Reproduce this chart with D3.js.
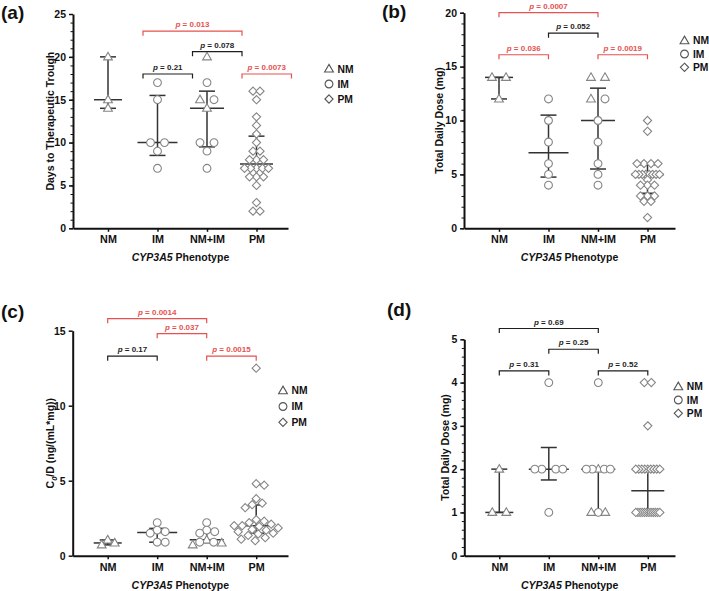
<!DOCTYPE html>
<html><head><meta charset="utf-8">
<script src="https://cdn.jsdelivr.net/npm/d3@7"></script>
<style>
body{margin:0;background:#fff}
svg{display:block}
text{font-family:"Liberation Sans",Arial,Helvetica,sans-serif;font-weight:bold;fill:#111}
</style>
</head><body>
<svg id="chart" width="709" height="591"></svg>
<script>
// ---------------- data ----------------
const categories = ["NM", "IM", "NM+IM", "PM"];
const legendLabels = ["NM", "IM", "PM"];

// (a) Days to therapeutic trough
const daysNM = [20, 15, 14];
const daysIM = [17, 15, 10, 10, 9, 7];
const daysPM = [16, 16, 15, 13, 12, 11, 10, 9, 9, 8, 8, 8, 7, 7, 7, 7, 7, 6, 6, 6, 5, 3, 2, 2];
const daysMedian = [15, 10, 14, 7.5];
const daysQ1 = [14, 8.5, 9.5, 6];
const daysQ3 = [20, 15.5, 16, 10.75];
const daysP = [[0, 1, "0.21", false, 18], [1, 2, "0.078", false, 20.6], [0, 2, "0.013", true, 23], [2, 3, "0.0073", true, 18]];
const daysTicks = [0, 5, 10, 15, 20, 25];

// (b) Total daily dose
const doseNM = [14, 14, 12];
const doseIM = [12, 10, 8, 6, 5, 4];
const dosePM = [10, 9, 6, 6, 6, 6, 5, 5, 5, 5, 5, 5, 5, 5, 4.5, 4, 4, 4, 3, 3, 3, 2.5, 2.5, 1];
const doseMedian = [14, 7, 10, 5];
const doseQ1 = [12, 4.75, 5.5, 3.25];
const doseQ3 = [14, 10.5, 13, 5.9];
const doseP = [[0, 1, "0.036", true, 16.1], [1, 2, "0.052", false, 18.1], [0, 2, "0.0007", true, 20], [2, 3, "0.0019", true, 16.1]];
const doseTicks = [0, 5, 10, 15, 20];

// (c) C0/D
const c0dNM = [1.05, 0.85, 0.72];
const c0dIM = [2.2, 1.7, 1.6, 1.5, 0.9, 0.9];
const c0dPM = [12.5, 4.8, 4.7, 3.8, 3.5, 3.4, 3.2, 2.4, 2.3, 2.2, 2.1, 2.0, 2.0, 1.95, 1.85, 1.75, 1.7, 1.6, 1.5, 1.45, 1.35, 1.2, 1.1, 1.0];
const c0dMedian = [0.85, 1.55, 1.07, 2.0];
const c0dQ1 = [0.72, 0.9, 0.87, 1.5];
const c0dQ3 = [1.05, 1.82, 1.6, 3.38];
const c0dP = [[0, 1, "0.17", false, 13.3], [1, 2, "0.037", true, 14.8], [0, 2, "0.0014", true, 15.8], [2, 3, "0.0015", true, 13.3]];
const c0dTicks = [0, 5, 10, 15];

// (d) Total daily dose
const lowNM = [2, 1, 1];
const lowIM = [4, 2, 2, 2, 2, 1];
const lowPM = [4, 4, 3, 2, 2, 2, 2, 2, 2, 2, 2, 2, 1, 1, 1, 1, 1, 1, 1, 1, 1, 1, 1, 1];
const lowMedian = [1, 2, 2, 1.5];
const lowQ1 = [1, 1.75, 1, 1];
const lowQ3 = [2, 2.5, 2, 2];
const lowP = [[0, 1, "0.31", false, 4.27], [1, 2, "0.25", false, 4.77], [0, 2, "0.69", false, 5.25], [2, 3, "0.52", false, 4.27]];
const lowTicks = [0, 1, 2, 3, 4, 5];

// ---------------- panels (data + layout) ----------------
const panels = [
  {tag: "(a)", nm: daysNM, im: daysIM, pm: daysPM, med: daysMedian, q1: daysQ1, q3: daysQ3, p: daysP, ticks: daysTicks,
   yMax: 25, minor: 1, title: "Days to Therapeutic Trough", mode: "rows",
   x0: 73, x1: 288, yTop: 14, yBot: 228.3, shift: 35, tagX: 1, tagY: 19, titleX: 54,
   legX: 329, legY: 69, legDy: 15},
  {tag: "(b)", nm: doseNM, im: doseIM, pm: dosePM, med: doseMedian, q1: doseQ1, q3: doseQ3, p: doseP, ticks: doseTicks,
   yMax: 20, minor: 1, title: "Total Daily Dose (mg)", mode: "rows",
   x0: 464, x1: 675, yTop: 12.7, yBot: 228.3, shift: 0, tagX: 382, tagY: 18, titleX: 443,
   legX: 684.5, legY: 40.7, legDy: 13.3},
  {tag: "(c)", nm: c0dNM, im: c0dIM, pm: c0dPM, med: c0dMedian, q1: c0dQ1, q3: c0dQ3, p: c0dP, ticks: c0dTicks,
   yMax: 15, minor: null, title: "C0D", mode: "swarm",
   x0: 72.7, x1: 288, yTop: 330.7, yBot: 555.7, shift: 0, tagX: 1, tagY: 318, titleX: 54,
   legX: 283, legY: 390.7, legDy: 15.8},
  {tag: "(d)", nm: lowNM, im: lowIM, pm: lowPM, med: lowMedian, q1: lowQ1, q3: lowQ3, p: lowP, ticks: lowTicks,
   yMax: 5, minor: 0.2, title: "Total Daily Dose (mg)", mode: "rows",
   x0: 464.3, x1: 675, yTop: 339.3, yBot: 555.7, shift: 0, tagX: 387, tagY: 316, titleX: 449,
   legX: 678.3, legY: 386.7, legDy: 13.3}
];

const RED = "#e5524f", BLK = "#1e1e1e", MK = "#858585", BAR = "#333";
const CAT_START = 35, CAT_STEP = 49.5;
const medHalf = [14, 20, 17, 16.5];
const capHalf = 8;
const typeOrder = {NM: 0, IM: 1, PM: 2};

function shapePath(t) {
  if (t === "NM") return "M0,-4.6L4.4,3L-4.4,3Z";
  if (t === "PM") return "M0,-4.1L4.1,0L0,4.1L-4.1,0Z";
  return d3.arc()({innerRadius: 0, outerRadius: 3.9, startAngle: 0, endAngle: 2 * Math.PI});
}

function rowLayout(items) {
  const total = items.length;
  const out = [];
  const groups = d3.group(items, d => d.v);
  for (const [v, arr] of groups) {
    const n = arr.length;
    let s = 7;
    if (n > 1 && (n - 1) * s > 24) s = 24 / (n - 1);
    let offs = [];
    if (total <= 12 && n % 2 === 0) {
      for (let k = 1; k <= n / 2; k++) offs.push(-k * s, k * s);
    } else {
      offs = d3.range(n).map(i => (i - (n - 1) / 2) * s);
    }
    offs.sort((a, b) => Math.abs(a) - Math.abs(b) || a - b);
    const byType = d3.group(arr, d => d.type);
    const types = Array.from(byType.keys()).sort((a, b) =>
      byType.get(a).length - byType.get(b).length || typeOrder[a] - typeOrder[b]);
    const ordered = types.flatMap(t => byType.get(t));
    ordered.forEach((d, i) => out.push(Object.assign({}, d, {dx: offs[i]})));
  }
  return out;
}

function swarmLayout(items, y) {
  const placed = [];
  const dmin = 7.2;
  const sorted = items.slice().sort((a, b) => b.v - a.v);
  sorted.forEach(it => {
    const py = y(it.v);
    let best = 0;
    for (let k = 0; k < 80; k++) {
      const cand = k === 0 ? 0 : (k % 2 ? 1 : -1) * Math.ceil(k / 2);
      if (placed.every(p => (p.dx - cand) ** 2 + (p.py - py) ** 2 >= dmin * dmin)) { best = cand; break; }
    }
    placed.push(Object.assign({}, it, {dx: best, py}));
  });
  return placed;
}

const svg = d3.select("#chart");

panels.forEach(P => {
  const g = svg.append("g");
  const y = d3.scaleLinear().domain([0, P.yMax]).range([P.yBot, P.yTop]);
  const lo = -CAT_START / CAT_STEP;
  const hi = (P.x1 - P.x0 - CAT_START) / CAT_STEP;
  const x = d3.scaleLinear().domain([lo, hi]).range([P.x0, P.x1]);

  // minor ticks
  if (P.minor) {
    const minorVals = d3.range(0, P.yMax + 1e-9, P.minor).map(v => +v.toFixed(4));
    g.append("g").attr("transform", `translate(${P.x0},0)`)
      .call(d3.axisLeft(y).tickValues(minorVals).tickSize(2.5).tickFormat(""))
      .call(a => a.select(".domain").remove())
      .call(a => a.selectAll("line").attr("stroke", "#111").attr("stroke-width", 1));
  }
  // y axis
  g.append("g").attr("transform", `translate(${P.x0},0)`)
    .call(d3.axisLeft(y).tickValues(P.ticks).tickSize(4).tickSizeOuter(0).tickPadding(3).tickFormat(d3.format("d")))
    .call(a => a.select(".domain").attr("stroke", "#111").attr("stroke-width", 2))
    .call(a => a.selectAll(".tick line").attr("stroke", "#111").attr("stroke-width", 1.5))
    .call(a => a.selectAll(".tick text").attr("font-size", 10.5).attr("font-weight", "bold")
      .attr("font-family", '"Liberation Sans",Arial,sans-serif').attr("fill", "#111"));
  // x axis
  g.append("g").attr("transform", `translate(0,${P.yBot})`)
    .call(d3.axisBottom(x).tickValues([0, 1, 2, 3]).tickSize(3.5).tickSizeOuter(0).tickPadding(4).tickFormat(i => categories[i]))
    .call(a => a.select(".domain").attr("stroke", "#111").attr("stroke-width", 2))
    .call(a => a.selectAll(".tick line").attr("stroke", "#111").attr("stroke-width", 1.5))
    .call(a => a.selectAll(".tick text").attr("font-size", 10.8).attr("font-weight", "bold")
      .attr("font-family", '"Liberation Sans",Arial,sans-serif').attr("fill", "#111"));

  // x title
  const xt = g.append("text").attr("x", (P.x0 + P.x1) / 2).attr("y", P.yBot + 33)
    .attr("text-anchor", "middle").attr("font-size", 10.5);
  xt.append("tspan").attr("font-style", "italic").text("CYP3A5");
  xt.append("tspan").text(" Phenotype");

  // y title
  const yt = g.append("text").attr("transform", `translate(${P.titleX},${(P.yTop + P.yBot) / 2}) rotate(-90)`)
    .attr("text-anchor", "middle").attr("font-size", 10.5);
  if (P.title === "C0D") {
    yt.append("tspan").text("C");
    yt.append("tspan").attr("font-style", "italic").attr("font-size", 7.5).attr("dy", 2.5).text("0");
    yt.append("tspan").attr("dy", -2.5).text("/D (ng/(mL*mg))");
  } else {
    yt.text(P.title);
  }

  // panel tag
  g.append("text").attr("x", P.tagX).attr("y", P.tagY).attr("font-size", 19).text(P.tag);

  // error bars (median + IQR)
  const bars = g.append("g").attr("stroke", BAR).attr("stroke-width", 1.5).attr("fill", "none");
  categories.forEach((c, i) => {
    const cx = x(i);
    bars.append("line").attr("x1", cx).attr("x2", cx).attr("y1", y(P.q1[i])).attr("y2", y(P.q3[i]));
    bars.append("line").attr("x1", cx - capHalf).attr("x2", cx + capHalf).attr("y1", y(P.q1[i])).attr("y2", y(P.q1[i]));
    bars.append("line").attr("x1", cx - capHalf).attr("x2", cx + capHalf).attr("y1", y(P.q3[i])).attr("y2", y(P.q3[i]));
    bars.append("line").attr("x1", cx - medHalf[i]).attr("x2", cx + medHalf[i]).attr("y1", y(P.med[i])).attr("y2", y(P.med[i]));
  });

  // points
  const cols = [
    P.nm.map(v => ({v, type: "NM"})),
    P.im.map(v => ({v, type: "IM"})),
    P.nm.map(v => ({v, type: "NM"})).concat(P.im.map(v => ({v, type: "IM"}))),
    P.pm.map(v => ({v, type: "PM"}))
  ];
  cols.forEach((items, i) => {
    const laid = P.mode === "rows" ? rowLayout(items) : swarmLayout(items, y);
    g.append("g").selectAll("path").data(laid).join("path")
      .attr("d", d => shapePath(d.type))
      .attr("transform", d => `translate(${x(i) + d.dx},${y(d.v)})`)
      .attr("fill", "#fff").attr("stroke", MK).attr("stroke-width", 1.1);
  });

  // significance brackets
  P.p.forEach(([a, b, txt, sig, lvl]) => {
    const col = sig ? RED : BLK;
    const xa = x(a) + P.shift, xb = x(b) + P.shift, yy = y(lvl);
    g.append("path").attr("d", `M${xa},${yy + 4.5}V${yy}H${xb}V${yy + 4.5}`)
      .attr("fill", "none").attr("stroke", col).attr("stroke-width", 1.2);
    const t = g.append("text").attr("x", (xa + xb) / 2).attr("y", yy - 3.8).attr("text-anchor", "middle")
      .attr("font-size", 8).style("fill", col);
    t.append("tspan").attr("font-style", "italic").text("p");
    t.append("tspan").text(" = " + txt);
  });

  // legend
  legendLabels.forEach((lab, k) => {
    const ly = P.legY + k * P.legDy;
    g.append("path").attr("d", shapePath(lab)).attr("transform", `translate(${P.legX},${ly})`)
      .attr("fill", "#fff").attr("stroke", "#555").attr("stroke-width", 1.1);
    g.append("text").attr("x", P.legX + 8.5).attr("y", ly).attr("dy", "0.35em").attr("font-size", 10.3).text(lab);
  });
});
</script>
</body></html>
